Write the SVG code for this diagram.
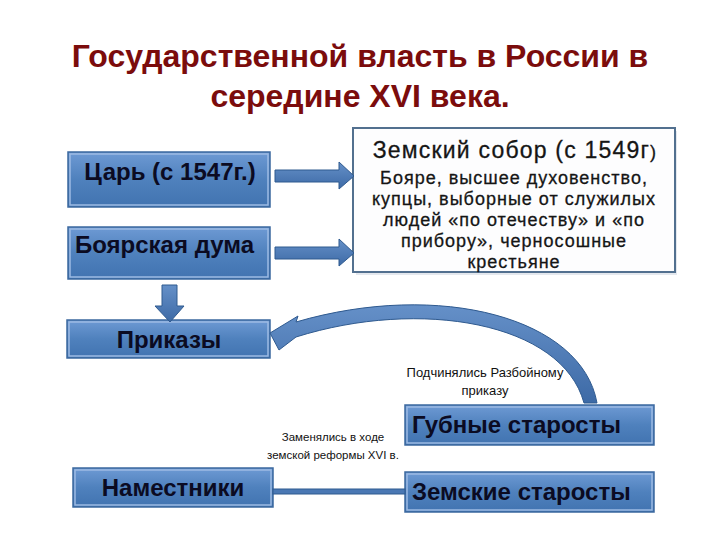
<svg xmlns="http://www.w3.org/2000/svg" width="720" height="540" viewBox="0 0 720 540">
<defs>
<linearGradient id="bg" x1="0" y1="0" x2="0" y2="1">
<stop offset="0" stop-color="#6e9ad4"/>
<stop offset="0.5" stop-color="#4f81bd"/>
<stop offset="1" stop-color="#4173b0"/>
</linearGradient>
<linearGradient id="ag" x1="0" y1="0" x2="0" y2="1">
<stop offset="0" stop-color="#6590c8"/>
<stop offset="1" stop-color="#3d6aa6"/>
</linearGradient>
<style>
.box{fill:url(#bg);stroke:#3b689f;stroke-width:1.5}
.hl{fill:none;stroke:#9dbbe3;stroke-width:1.5}
.t{font-family:"Liberation Sans",Arial,sans-serif;font-weight:bold;fill:#0b0b22;font-size:24px}
.title{font-family:"Liberation Sans",Arial,sans-serif;font-weight:bold;fill:#7b0c0c;font-size:32px;text-anchor:middle}
.zs{font-family:"Liberation Sans",Arial,sans-serif;fill:#151515;text-anchor:middle;stroke:#151515;stroke-width:0.3}
.sm{font-family:"Liberation Sans Narrow","Liberation Sans",Arial,sans-serif;fill:#111;text-anchor:middle}
.arr{fill:url(#ag);stroke:#2f5a8f;stroke-width:1}
</style>
</defs>
<rect width="720" height="540" fill="#ffffff"/>
<g id="title">
<text class="title" x="360" y="67">Государственной власть в России в</text>
<text class="title" x="360" y="107">середине XVI века.</text>
</g>
<g id="zemsky-sobor">
<rect x="356" y="131" width="321" height="144" fill="#e4e8ee"/>
<rect x="353" y="128" width="322" height="144" fill="#fdfdfe" stroke="#52708f" stroke-width="2"/>
<text class="zs" x="515" y="158" font-size="23" letter-spacing="1.2">Земский собор (с 1549г<tspan font-size="18">)</tspan></text>
<text class="zs" x="514" y="184" font-size="18" letter-spacing="1">Бояре, высшее духовенство,</text>
<text class="zs" x="514" y="205" font-size="18" letter-spacing="1">купцы, выборные от служилых</text>
<text class="zs" x="514" y="226" font-size="18" letter-spacing="1">людей «по отечеству» и «по</text>
<text class="zs" x="514" y="247" font-size="18" letter-spacing="1">прибору», черносошные</text>
<text class="zs" x="514" y="268" font-size="18" letter-spacing="1">крестьяне</text>
</g>
<g id="tsar">
<rect class="box" x="68" y="152" width="202" height="55"/>
<rect class="hl" x="70" y="154" width="198" height="51"/>
<text class="t" x="170" y="180" text-anchor="middle" font-size="23">Царь (с 1547г.)</text>
</g>
<g id="boyar-duma">
<rect class="box" x="68" y="227" width="202" height="52"/>
<rect class="hl" x="70" y="229" width="198" height="48"/>
<text class="t" x="75" y="253">Боярская дума</text>
</g>
<g id="prikazy">
<rect class="box" x="67" y="320" width="203" height="38"/>
<rect class="hl" x="69" y="322" width="199" height="34"/>
<text class="t" x="169" y="348" text-anchor="middle">Приказы</text>
</g>
<g id="gubnye">
<rect class="box" x="405" y="405" width="249" height="40"/>
<rect class="hl" x="407" y="407" width="245" height="36"/>
<text class="t" x="412" y="433">Губные старосты</text>
</g>
<g id="namestniki">
<rect class="box" x="73" y="468" width="200" height="39"/>
<rect class="hl" x="75" y="470" width="196" height="35"/>
<text class="t" x="173" y="496" text-anchor="middle">Наместники</text>
</g>
<g id="zemskie">
<rect class="box" x="405" y="472" width="249" height="40"/>
<rect class="hl" x="407" y="474" width="245" height="36"/>
<text class="t" x="412" y="500">Земские старосты</text>
</g>
<g id="connectors">
<path class="arr" d="M275 170 H339 V162 L354 176 L339 189 V182 H275 Z"/>
<path class="arr" d="M275 247 H339 V239 L354 253 L339 266 V259 H275 Z"/>
<path class="arr" d="M162 285 H177 V306 H184 L170 322 L155 306 H162 Z"/>
<path class="arr" d="M597 403 C582 318 440 280 296 322 L298 316 L270 333 L279 350 L296 337 C420 298 562 322 584 403 Z"/>
<rect x="273" y="489" width="132" height="5" fill="#4a78b4" stroke="#2f5a8f" stroke-width="1"/>
</g>
<g id="labels">
<text class="sm" x="485" y="377" font-size="13">Подчинялись Разбойному</text>
<text class="sm" x="485" y="395" font-size="13">приказу</text>
<text class="sm" x="333" y="441" font-size="11.5">Заменялись в ходе</text>
<text class="sm" x="333" y="459" font-size="11.5">земской реформы XVI в.</text>
</g>
</svg>
